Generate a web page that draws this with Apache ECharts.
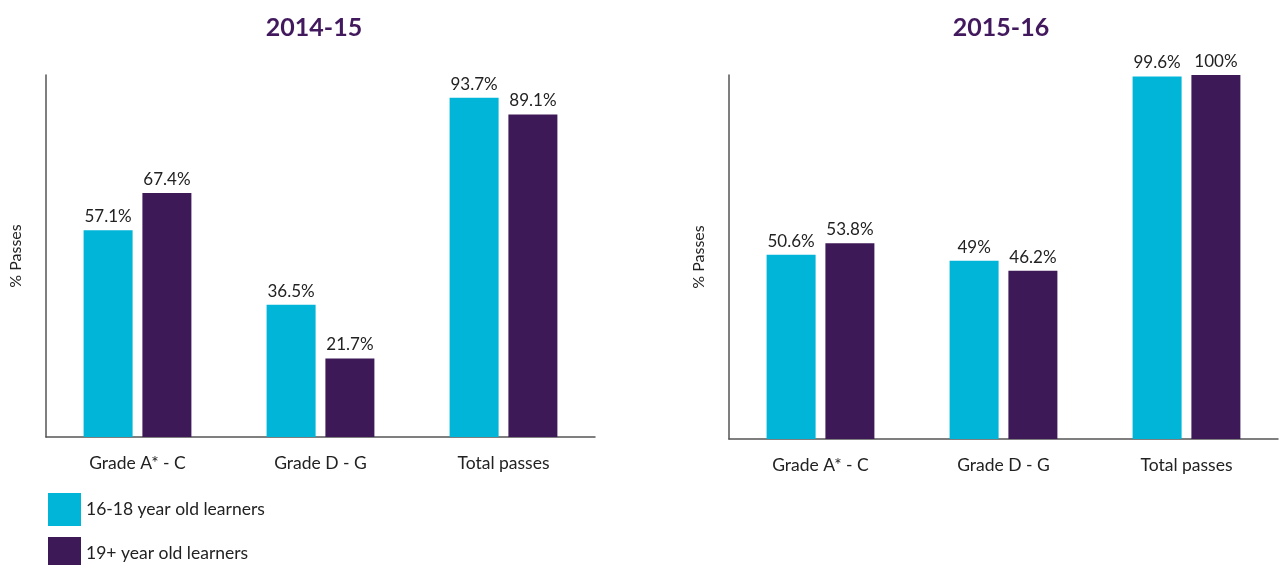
<!DOCTYPE html>
<html>
<head>
<meta charset="utf-8">
<script src="https://cdn.jsdelivr.net/npm/echarts@6/dist/echarts.min.js"></script>
<style>
  html, body { margin: 0; padding: 0; background: #fff; }
  #chart { width: 1285px; height: 565px; }
</style>
</head>
<body>
<div id="chart"></div>
<script>
const categories = ['Grade A* - C', 'Grade D - G', 'Total passes'];
const seriesNames = ['16-18 year old learners', '19+ year old learners'];
const titles = ['2014-15', '2015-16'];
const young1415 = [57.1, 36.5, 93.7];
const older1415 = [67.4, 21.7, 89.1];
const young1516 = [50.6, 49, 99.6];
const older1516 = [53.8, 46.2, 100];

const CYAN = '#00b5d7';
const PURPLE = '#3e1958';
const FONT = 'Lato, "Open Sans", sans-serif';

const chart = echarts.init(document.getElementById('chart'));

function yAxisCfg(idx) {
  return {
    gridIndex: idx, type: 'value', min: 0, max: 100,
    name: '% Passes', nameLocation: 'middle', nameGap: 22,
    nameTextStyle: { fontFamily: FONT, fontSize: 16, color: '#222' },
    axisLine: { show: true, lineStyle: { color: '#555', width: 1.5 } },
    axisTick: { show: false }, axisLabel: { show: false }, splitLine: { show: false }
  };
}
function xAxisCfg(idx) {
  return {
    gridIndex: idx, type: 'category', data: categories,
    axisLine: { lineStyle: { color: '#555', width: 1.5 } },
    axisTick: { show: false },
    axisLabel: { fontFamily: FONT, fontSize: 17.5, color: '#222', margin: 17 }
  };
}
function barSeries(name, data, color, idx) {
  return {
    name, type: 'bar', data, xAxisIndex: idx, yAxisIndex: idx,
    barWidth: 49, barGap: '20%',
    itemStyle: { color },
    label: { show: true, position: 'top', distance: 5, formatter: '{c}%',
             fontFamily: FONT, fontSize: 17, color: '#222' }
  };
}
function legendCfg(name, top) {
  return {
    data: [name], orient: 'vertical', left: 43, top, padding: 5,
    icon: 'rect', itemWidth: 33, itemHeight: 33, itemGap: 8,
    textStyle: { fontFamily: FONT, fontSize: 17.5, color: '#222' }
  };
}

chart.setOption({
  animation: false,
  title: [
    { text: titles[0], left: 309, top: 10, textAlign: 'center',
      textStyle: { fontFamily: FONT, fontWeight: 'bold', fontSize: 25, color: '#43195e' } },
    { text: titles[1], left: 996, top: 10, textAlign: 'center',
      textStyle: { fontFamily: FONT, fontWeight: 'bold', fontSize: 25, color: '#43195e' } }
  ],
  legend: [legendCfg(seriesNames[0], 488), legendCfg(seriesNames[1], 532)],
  grid: [
    { left: 46, top: 75, width: 549, height: 362 },
    { left: 729, top: 75, width: 549, height: 364 }
  ],
  xAxis: [xAxisCfg(0), xAxisCfg(1)],
  yAxis: [yAxisCfg(0), yAxisCfg(1)],
  series: [
    barSeries(seriesNames[0], young1415, CYAN, 0),
    barSeries(seriesNames[1], older1415, PURPLE, 0),
    barSeries(seriesNames[0], young1516, CYAN, 1),
    barSeries(seriesNames[1], older1516, PURPLE, 1)
  ]
});
</script>
</body>
</html>
